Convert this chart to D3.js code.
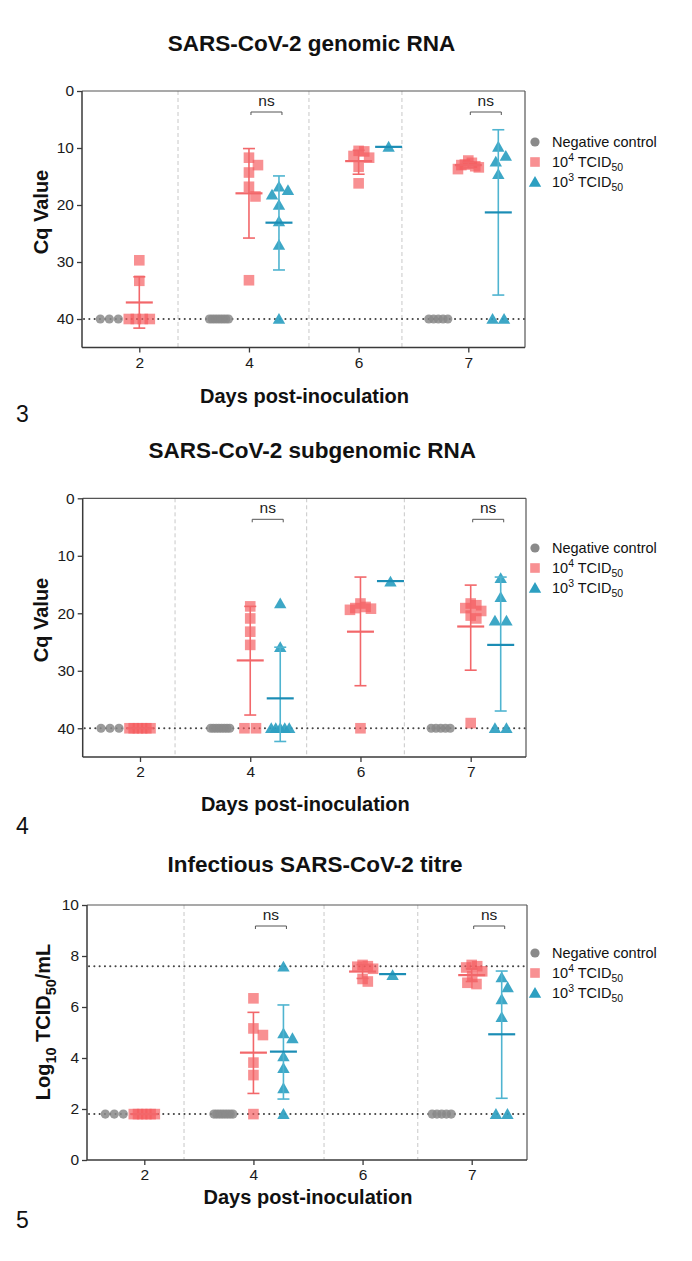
<!DOCTYPE html>
<html><head><meta charset="utf-8">
<script src="https://cdn.jsdelivr.net/npm/d3@7"></script>
<style>body{margin:0;background:#fff}svg{display:block}text{font-family:"Liberation Sans",Arial,Helvetica,sans-serif}</style>
</head><body><svg id="c" width="692" height="1261"></svg>
<script>
// ---------- DATA ----------
const days = ["2", "4", "6", "7"];
const legendLabels = ["Negative control", "10^4 TCID_50", "10^3 TCID_50"];

// Panel 3: genomic RNA (Cq)
const gNeg  = [[40,40,40],[40,40,40,40,40,40,40,40],[],[40,40,40,40,40]];
const gHigh = [[29.7,33.3,40,40,40,40],[11.7,13.0,14.3,16.8,18.5,33.2],[10.5,10.6,11.4,11.7,13.3,16.2],[12.2,12.6,12.9,13.0,13.2,13.4,13.7]];
const gLow  = [[],[16.8,17.4,18.2,20.0,22.9,27.0,40],[9.8],[9.8,11.4,12.4,14.6,40,40]];
const gHighMean = [37.1,17.95,12.3,13.0], gHighLo = [32.6,10.1,10.4,12.5], gHighHi = [41.6,25.8,14.6,13.5];
const gLowMean  = [null,23.1,9.8,21.3],  gLowLo  = [null,14.9,null,6.8],  gLowHi  = [null,31.4,null,35.8];

// Panel 4: subgenomic RNA (Cq)
const sNeg  = [[40,40,40],[40,40,40,40,40,40,40,40],[],[40,40,40,40,40]];
const sHigh = [[40,40,40,40,40,40],[18.8,20.9,23.2,25.5,40,40],[18.3,18.9,19.1,19.2,19.4,40],[18.3,18.6,19.1,19.6,20.4,20.9,39.1]];
const sLow  = [[],[18.3,25.9,40,40,40,40,40],[14.5],[13.9,17.2,21.3,21.3,40,40]];
const sHighMean = [40,28.2,23.2,22.3], sHighLo = [null,18.8,13.7,15.1], sHighHi = [null,37.7,32.6,29.9];
const sLowMean  = [null,34.8,14.4,25.5], sLowLo = [null,25.9,null,13.7], sLowHi = [null,42.3,null,37.0];

// Panel 5: infectious titre (log10 TCID50/mL)
const tNeg  = [[1.8,1.8,1.8],[1.8,1.8,1.8,1.8,1.8,1.8,1.8,1.8],[],[1.8,1.8,1.8,1.8,1.8]];
const tHigh = [[1.8,1.8,1.8,1.8,1.8,1.8],[6.34,5.16,4.9,3.82,3.33,1.8],[7.65,7.6,7.58,7.5,7.1,7.0],[7.65,7.6,7.55,7.4,7.2,6.95,6.9]];
const tLow  = [[],[7.58,4.96,4.77,4.06,3.6,2.81,1.8],[7.25],[7.16,6.77,6.3,5.6,1.8,1.8]];
const tHighMean = [1.8,4.21,7.39,7.25], tHighLo = [null,2.61,7.12,7.0], tHighHi = [null,5.79,7.66,7.5];
const tLowMean  = [null,4.25,7.29,4.93], tLowLo = [null,2.39,null,2.42], tLowHi = [null,6.08,null,7.41];

const cqTicks = [0,10,20,30,40];
const titreTicks = [0,2,4,6,8,10];
const cqRefLines = [40];
const titreRefLines = [1.8, 7.6];
const nsDays = ["4","7"];

// ---------- LAYOUT ----------
const svg = d3.select("#c");
const COL = {
  grey:"#8a8a8a", red:"#f45b5e", redLine:"#f2676a", blue:"#2c9fc1", blueMean:"#1b8db5", blueErr:"#4fb4d0", axis:"#3a3a3a"
};
const panels = [
  {num:"3", title:"SARS-CoV-2 genomic RNA", titleY:51, left:82, right:525, top:91, bottom:347.5,
   domain:[0,45], reversed:true, ticks:cqTicks, ref:cqRefLines, xr:[139.3,468.3], seps:[0.353,1.547,2.395],
   ylab:"cq", ylabX:48, ylabY:212, xTitleY:403, numY:422, legY:142,
   neg:gNeg, high:gHigh, low:gLow, hm:gHighMean, hlo:gHighLo, hhi:gHighHi, lm:gLowMean, llo:gLowLo, lhi:gLowHi},
  {num:"4", title:"SARS-CoV-2 subgenomic RNA", titleY:458, left:82.7, right:526, top:498.3, bottom:757,
   domain:[0,45], reversed:true, ticks:cqTicks, ref:cqRefLines, xr:[140,470.7], seps:[0.318,1.512,2.398],
   ylab:"cq", ylabX:48, ylabY:620, xTitleY:811, numY:834, legY:548,
   neg:sNeg, high:sHigh, low:sLow, hm:sHighMean, hlo:sHighLo, hhi:sHighHi, lm:sLowMean, llo:sLowLo, lhi:sLowHi},
  {num:"5", title:"Infectious SARS-CoV-2 titre", titleY:872, left:87, right:527, top:905, bottom:1160,
   domain:[0,10], reversed:false, ticks:titreTicks, ref:titreRefLines, xr:[144.3,471.7], seps:[0.364,1.647,2.506],
   ylab:"titre", ylabX:50, ylabY:1022, xTitleY:1204, numY:1228, legY:953,
   neg:tNeg, high:tHigh, low:tLow, hm:tHighMean, hlo:tHighLo, hhi:tHighHi, lm:tLowMean, llo:tLowLo, lhi:tLowHi}
];
const OFF = {neg:-30, high:0, low:30};

function swarm(vals, y, s, maxHalf){
  const pts = vals.map(v => ({v, py:y(v), dx:0}));
  const order = pts.slice().sort((a,b)=>a.py-b.py);
  const placed = [];
  for (const p of order){
    let cand = 0;
    for (let k=0;k<2000;k++){
      const c = (k%2===1?1:-1)*Math.ceil(k/2)*0.5;
      let ok = true;
      for (const q of placed){
        const dy = q.py-p.py, dx = c-q.dx;
        if (dx*dx+dy*dy < s*s - 0.01){ ok=false; break; }
      }
      if (ok){ cand=c; break; }
    }
    p.dx = cand; placed.push(p);
  }
  const groups = d3.group(pts, d=>d.v);
  for (const [,g] of groups){
    if (g.length>1){
      const m = d3.mean(g, d=>d.dx);
      g.forEach(d=>d.dx-=m);
    }
  }
  const mx = d3.max(pts, d=>Math.abs(d.dx)) || 0;
  if (mx>maxHalf) pts.forEach(d=>d.dx*=maxHalf/mx);
  return pts;
}

function richText(sel, str, size){
  const re = /(\^|_)(\d+)/g;
  let last=0, m;
  const parts=[];
  while((m=re.exec(str))){ parts.push({t:str.slice(last,m.index),k:0}); parts.push({t:m[2],k:m[1]==="^"?1:-1}); last=re.lastIndex; }
  parts.push({t:str.slice(last),k:0});
  let cur=0;
  parts.forEach(p=>{
    if(!p.t) return;
    const target = p.k===1?-size*0.38:(p.k===-1?size*0.3:0);
    sel.append("tspan").attr("dy", target-cur).attr("font-size", p.k?size*0.72:size).text(p.t);
    cur=target;
  });
}

function tri(cx, cy){ return `M${cx},${cy-6}L${cx+6.2},${cy+4.8}L${cx-6.2},${cy+4.8}Z`; }

panels.forEach(P=>{
  const g = svg.append("g");
  const y = d3.scaleLinear().domain(P.domain).range(P.reversed?[P.top,P.bottom]:[P.bottom,P.top]);
  const x = d3.scalePoint().domain(days).range(P.xr);
  const xi = d3.scaleLinear().domain([0,days.length-1]).range(P.xr);

  g.append("text").attr("x",(P.left+P.right)/2+8).attr("y",P.titleY).attr("text-anchor","middle")
    .attr("font-size",22.5).attr("font-weight","bold").attr("fill","#111").text(P.title);

  g.selectAll(".sep").data(P.seps).join("line")
    .attr("x1",d=>xi(d)).attr("x2",d=>xi(d)).attr("y1",P.top).attr("y2",P.bottom)
    .attr("stroke","#c8c8c8").attr("stroke-width",1).attr("stroke-dasharray","4,3");

  g.selectAll(".ref").data(P.ref).join("line")
    .attr("x1",P.left+2).attr("x2",P.right).attr("y1",d=>y(d)).attr("y2",d=>y(d))
    .attr("stroke","#444").attr("stroke-width",2).attr("stroke-linecap","round").attr("stroke-dasharray","0.1,5.2");

  g.append("line").attr("x1",P.left).attr("x2",P.right).attr("y1",P.top).attr("y2",P.top).attr("stroke","#555").attr("stroke-width",1.2);
  g.append("line").attr("x1",P.right).attr("x2",P.right).attr("y1",P.top).attr("y2",P.bottom).attr("stroke","#555").attr("stroke-width",1.2);

  const ya = g.append("g").attr("transform",`translate(${P.left},0)`).call(d3.axisLeft(y).tickValues(P.ticks).tickSize(5).tickPadding(3));
  ya.select(".domain").attr("d",`M0,${P.top}V${P.bottom}`).attr("stroke",COL.axis).attr("stroke-width",1.5);
  ya.selectAll(".tick line").attr("stroke",COL.axis).attr("stroke-width",1.3);
  ya.selectAll(".tick text").attr("font-size",15.5).attr("fill","#1a1a1a").attr("font-family","Liberation Sans, Arial, sans-serif");
  const xa = g.append("g").attr("transform",`translate(0,${P.bottom})`).call(d3.axisBottom(x).tickSize(5).tickPadding(4));
  xa.select(".domain").attr("d",`M${P.left},0H${P.right}`).attr("stroke",COL.axis).attr("stroke-width",1.5);
  xa.selectAll(".tick line").attr("stroke",COL.axis).attr("stroke-width",1.3);
  xa.selectAll(".tick text").attr("font-size",15.5).attr("fill","#1a1a1a").attr("font-family","Liberation Sans, Arial, sans-serif");

  g.append("text").attr("x",(P.left+P.right)/2+1).attr("y",P.xTitleY).attr("text-anchor","middle")
    .attr("font-size",20).attr("font-weight","bold").attr("fill","#111").text("Days post-inoculation");
  const yl = g.append("text").attr("transform",`translate(${P.ylabX},${P.ylabY}) rotate(-90)`).attr("text-anchor","middle")
    .attr("font-size",20).attr("font-weight","bold").attr("fill","#111");
  if (P.ylab==="cq") yl.text("Cq Value");
  else richText(yl, "Log_10 TCID_50/mL", 20);

  g.append("text").attr("x",16).attr("y",P.numY).attr("font-size",23).attr("fill","#111").text(P.num);

  days.forEach((dName,i)=>{
    const cx = x(dName);
    swarm(P.neg[i], y, 9, 9.5).forEach(p=>{
      g.append("circle").attr("cx",cx+OFF.neg+p.dx).attr("cy",p.py).attr("r",4.6).attr("fill",COL.grey).attr("fill-opacity",0.85);
    });
    swarm(P.high[i], y, 11.5, 10.5).forEach(p=>{
      g.append("rect").attr("x",cx+OFF.high+p.dx-5.3).attr("y",p.py-5.3).attr("width",10.6).attr("height",10.6).attr("fill",COL.red).attr("fill-opacity",0.68);
    });
    swarm(P.low[i], y, 11.5, 9).forEach(p=>{
      g.append("path").attr("d",tri(cx+OFF.low+p.dx, p.py)).attr("fill",COL.blue).attr("fill-opacity",0.92);
    });
  });

  function stats(means, lo, hi, off, meanCol, errCol){
    days.forEach((dName,i)=>{
      if (means[i]==null) return;
      const cx = x(dName)+off;
      if (lo[i]!=null){
        g.append("line").attr("x1",cx).attr("x2",cx).attr("y1",y(lo[i])).attr("y2",y(hi[i])).attr("stroke",errCol).attr("stroke-width",1.6);
        [lo[i],hi[i]].forEach(v=>g.append("line").attr("x1",cx-6).attr("x2",cx+6).attr("y1",y(v)).attr("y2",y(v)).attr("stroke",errCol).attr("stroke-width",1.6));
      }
      g.append("line").attr("x1",cx-13.5).attr("x2",cx+13.5).attr("y1",y(means[i])).attr("y2",y(means[i])).attr("stroke",meanCol).attr("stroke-width",2.2);
    });
  }
  stats(P.hm, P.hlo, P.hhi, OFF.high, COL.redLine, COL.redLine);
  stats(P.lm, P.llo, P.lhi, OFF.low, COL.blueMean, COL.blueErr);

  nsDays.forEach(dName=>{
    const x1 = x(dName)+2, x2 = x(dName)+OFF.low+3, by = P.top+21;
    g.append("path").attr("d",`M${x1},${by+3}V${by}H${x2}V${by+3}`).attr("fill","none").attr("stroke","#555").attr("stroke-width",1);
    g.append("text").attr("x",(x1+x2)/2).attr("y",by-6).attr("text-anchor","middle").attr("font-size",15.5).attr("fill","#222").text("ns");
  });

  const lx = 535, tx = 552;
  legendLabels.forEach((lab,k)=>{
    const ly = P.legY + k*20;
    if (k===0) g.append("circle").attr("cx",lx).attr("cy",ly).attr("r",4.6).attr("fill",COL.grey);
    if (k===1) g.append("rect").attr("x",lx-4.8).attr("y",ly-4.8).attr("width",9.6).attr("height",9.6).attr("fill",COL.red).attr("fill-opacity",0.68);
    if (k===2) g.append("path").attr("d",tri(lx, ly)).attr("fill",COL.blue);
    const t = g.append("text").attr("x",tx).attr("y",ly+5).attr("font-size",14.5).attr("fill","#111");
    richText(t, lab, 14.5);
  });
});
</script></body></html>
